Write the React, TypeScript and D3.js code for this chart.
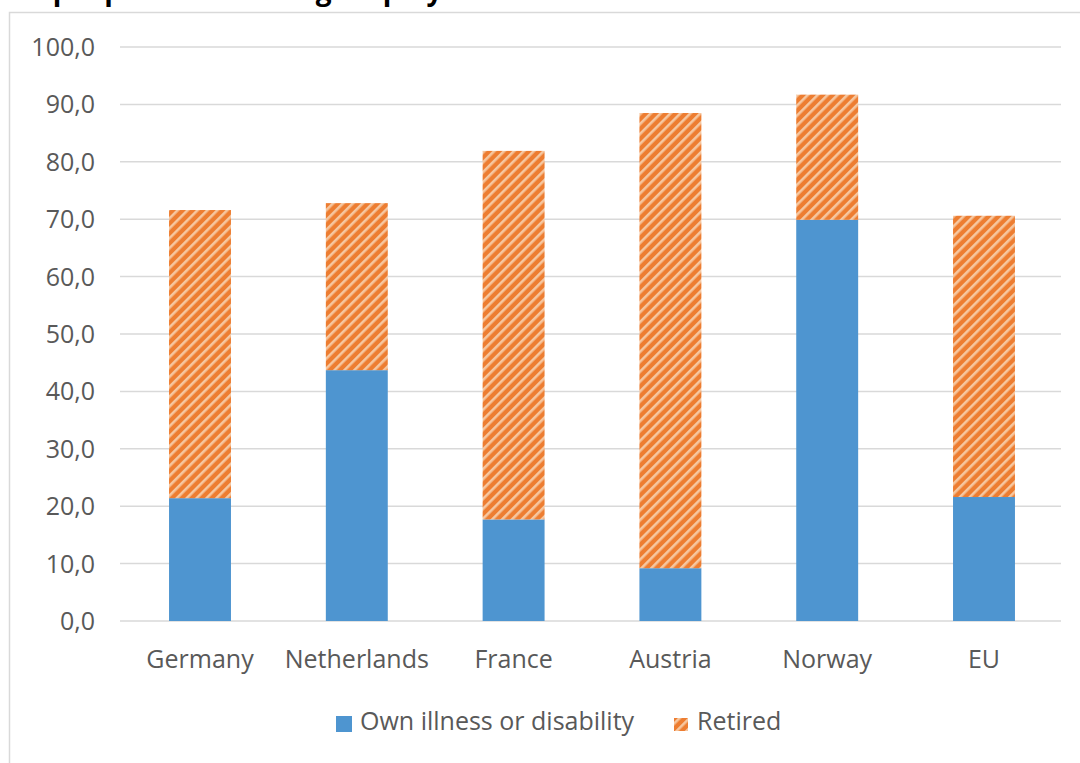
import React from "react";
import * as d3 from "d3";

const categories = ["Germany", "Netherlands", "France", "Austria", "Norway", "EU"];
const illness = [21.4, 43.7, 17.7, 9.2, 69.9, 21.6];
const retired = [50.2, 29.1, 64.2, 79.3, 21.8, 49.0];
const yTicks = [0, 10, 20, 30, 40, 50, 60, 70, 80, 90, 100];
const seriesNames = ["Own illness or disability", "Retired"];
const titleText = "All people after leaving employment";

const W = 1080;
const H = 763;
const FONT = "'Open Sans', 'Noto Sans', sans-serif";
const BLUE = "#4e95d0";
const ORANGE = "#ed7d31";
const PEACH = "#f6c7a0";
const TEXT = "#595959";
const GRID = "#d9d9d9";

export default function App() {
  const x = d3.scaleBand<string>().domain(categories).range([122, 1062]).paddingInner(0.605).paddingOuter(0.3);
  const y = d3.scaleLinear().domain([0, 100]).range([621, 47]);
  const fmt = (v: number) => d3.format(".1f")(v).replace(".", ",");

  const rows = categories.map((c, i) => ({ c, a: illness[i], b: retired[i] }));
  const stack = d3.stack<{ c: string; a: number; b: number }>().keys(["a", "b"])(rows);

  return (
    <svg width={W} height={H} style={{ position: "absolute", left: 0, top: 0, background: "#fff" }} fontFamily={FONT}>
      <defs>
        <pattern id="retiredHatch" patternUnits="userSpaceOnUse" width={7} height={7} patternTransform="rotate(45)">
          <rect width={7} height={7} fill={ORANGE} />
          <rect width={2.6} height={7} fill={PEACH} />
        </pattern>
      </defs>

      {/* heading sits mostly above the top edge */}
      <text x={9} y={0} fontSize={28} fontWeight={700} fill="#000">{titleText}</text>

      <rect x={9.5} y={12.5} width={W} height={H} fill="#fff" stroke={GRID} strokeWidth={1.5} />

      {yTicks.map((t) => (
        <g key={t}>
          <line x1={120} x2={1061} y1={y(t)} y2={y(t)} stroke={GRID} strokeWidth={1.5} />
          <text x={95} y={y(t)} dy="0.36em" textAnchor="end" fontSize={25} fill={TEXT}>{fmt(t)}</text>
        </g>
      ))}

      {stack.map((layer, li) => (
        <g key={li} fill={li === 0 ? BLUE : "url(#retiredHatch)"}>
          {layer.map((d, i) => (
            <rect key={i} x={x(categories[i])} width={x.bandwidth()} y={y(d[1])} height={y(d[0]) - y(d[1])} />
          ))}
        </g>
      ))}

      {categories.map((c) => (
        <text key={c} x={(x(c) as number) + x.bandwidth() / 2} y={668} textAnchor="middle" fontSize={25} fill={TEXT}>{c}</text>
      ))}

      <rect x={336} y={716} width={16} height={16} fill={BLUE} />
      <text x={360} y={730} fontSize={25} fill={TEXT}>{seriesNames[0]}</text>
      <rect x={674} y={718} width={14} height={13} fill="url(#retiredHatch)" />
      <text x={697} y={730} fontSize={25} fill={TEXT}>{seriesNames[1]}</text>
    </svg>
  );
}
